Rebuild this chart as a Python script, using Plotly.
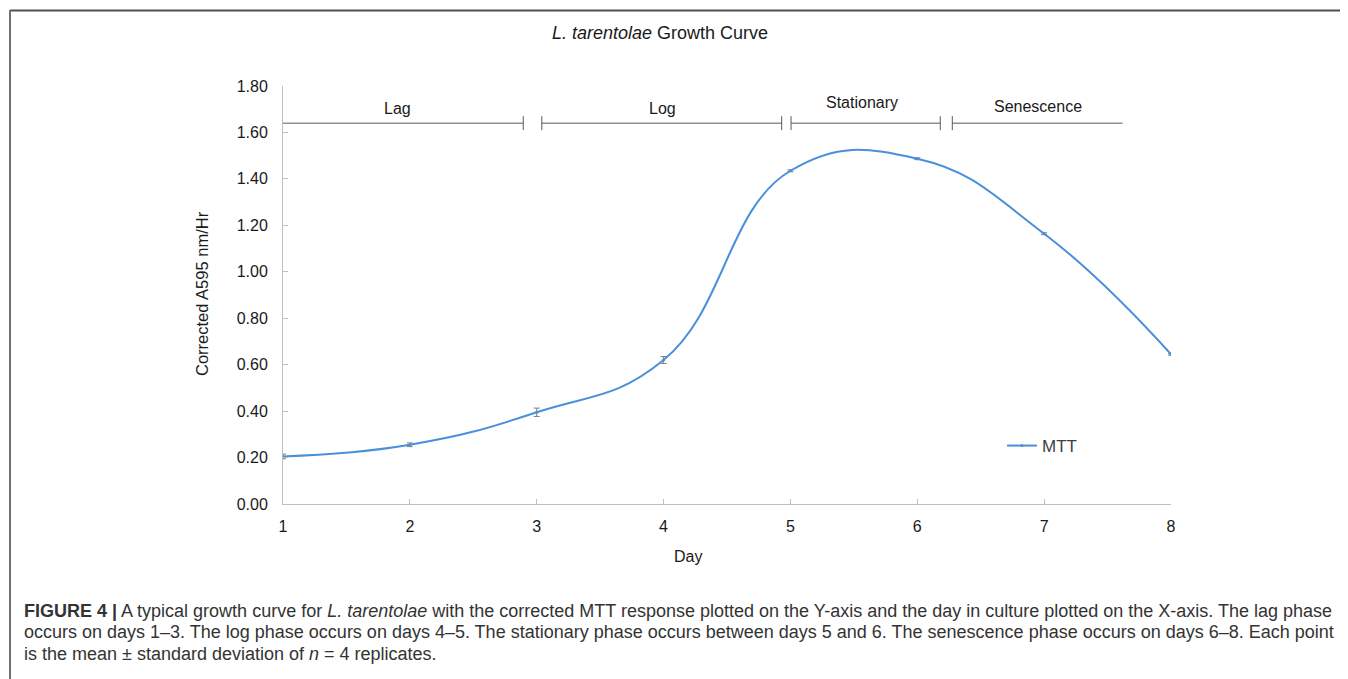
import plotly.graph_objects as go

# ---- data ----
days = [1, 2, 3, 4, 5, 6, 7, 8]
mtt = [0.205, 0.255, 0.395, 0.620, 1.435, 1.487, 1.164, 0.645]
mtt_sd = [0.010, 0.008, 0.018, 0.015, 0.004, 0.004, 0.004, 0.004]

phase_names = ["Lag", "Log", "Stationary", "Senescence"]
phase_start = [1.0, 3.04, 5.005, 6.276]
phase_end = [2.894, 4.931, 6.181, 7.619]
phase_start_tick = [False, True, True, True]
phase_end_tick = [True, True, True, False]
phase_label_x = [1.906, 3.995, 5.564, 6.95]
phase_label_y = [1.705, 1.705, 1.727, 1.71]
phase_line_y = 1.64

y_ticks = [0.0, 0.2, 0.4, 0.6, 0.8, 1.0, 1.2, 1.4, 1.6, 1.8]

caption_lines = [
    "<b>FIGURE 4 |</b> A typical growth curve for <i>L. tarentolae</i> with the corrected MTT "
    "response plotted on the Y-axis and the day in culture plotted on the X-axis. The lag phase",
    "occurs on days 1–3. The log phase occurs on days 4–5. The stationary phase occurs between "
    "days 5 and 6. The senescence phase occurs on days 6–8. Each point",
    "is the mean ± standard deviation of <i>n</i> = 4 replicates.",
]

# ---- layout geometry (screen px; page body has an 8px margin) ----
OFF = 8
WS, HS = 1348, 679          # screen size
W, H = WS - OFF, HS - OFF   # figure size
L, R, T, B = 283, 1171, 86, 504  # plot area on screen


def px_x(px):
    return (px - L) / (R - L)


def px_y(py):
    return (B - py) / (B - T)


FONT = "Liberation Sans, Arial, sans-serif"
AX = "#bfbfbf"
BLUE = "#4a8fda"
TXT = "#1a1a1a"

fig = go.Figure()
fig.add_trace(go.Scatter(
    x=days, y=mtt, name="MTT", mode="lines+markers",
    line=dict(color=BLUE, width=2, shape="spline", smoothing=1.25),
    marker=dict(size=3, color=BLUE),
    error_y=dict(type="data", array=mtt_sd, visible=True,
                 color="#7f7f7f", thickness=1, width=3),
))

shapes = []
tick_h = 0.03
for s, e, st, et in zip(phase_start, phase_end, phase_start_tick, phase_end_tick):
    shapes.append(dict(type="line", xref="x", yref="y", x0=s, x1=e,
                       y0=phase_line_y, y1=phase_line_y,
                       line=dict(color="#595959", width=1)))
    if st:
        shapes.append(dict(type="line", xref="x", yref="y", x0=s, x1=s,
                           y0=phase_line_y - tick_h, y1=phase_line_y + tick_h,
                           line=dict(color="#595959", width=1)))
    if et:
        shapes.append(dict(type="line", xref="x", yref="y", x0=e, x1=e,
                           y0=phase_line_y - tick_h, y1=phase_line_y + tick_h,
                           line=dict(color="#595959", width=1)))

# frame of the figure panel
shapes.append(dict(type="line", xref="paper", yref="paper",
                   x0=px_x(10), x1=px_x(WS + 20), y0=px_y(10.5), y1=px_y(10.5),
                   line=dict(color="#505050", width=2)))
shapes.append(dict(type="line", xref="paper", yref="paper",
                   x0=px_x(10), x1=px_x(10), y0=px_y(10), y1=px_y(HS + 20),
                   line=dict(color="#707070", width=2)))

annotations = []
for name, lx, ly in zip(phase_names, phase_label_x, phase_label_y):
    annotations.append(dict(x=lx, y=ly, xref="x", yref="y", text=name,
                            xanchor="center", yanchor="middle",
                            showarrow=False, font=dict(size=16, color=TXT, family=FONT)))

annotations.append(dict(x=px_x(660), y=px_y(33), xref="paper", yref="paper",
                        xanchor="center", yanchor="middle",
                        text="<i>L. tarentolae</i> Growth Curve", showarrow=False,
                        font=dict(size=18, color=TXT, family=FONT)))
annotations.append(dict(x=px_x(688), y=px_y(556), xref="paper", yref="paper",
                        xanchor="center", yanchor="middle",
                        text="Day", showarrow=False,
                        font=dict(size=16, color=TXT, family=FONT)))
annotations.append(dict(x=px_x(202), y=px_y(294), xref="paper", yref="paper",
                        xanchor="center", yanchor="middle",
                        text="Corrected A595 nm/Hr", showarrow=False, textangle=-90,
                        font=dict(size=16.5, color=TXT, family=FONT)))

cap_y = [610.7, 632.2, 653.5]
for line, cy in zip(caption_lines, cap_y):
    annotations.append(dict(x=px_x(22), y=px_y(cy), xref="paper", yref="paper",
                            xanchor="left", yanchor="middle", align="left",
                            text=line, showarrow=False,
                            font=dict(size=18, color="#333333",
                                      family="Liberation Sans Narrow, Arial Narrow, Liberation Sans, Arial, sans-serif")))

fig.update_layout(
    width=W, height=H,
    margin=dict(l=L - OFF, r=W - (R - OFF), t=T - OFF, b=H - (B - OFF), pad=0),
    paper_bgcolor="white", plot_bgcolor="white",
    font=dict(family=FONT, size=16, color=TXT),
    showlegend=True,
    legend=dict(x=px_x(1002), y=px_y(446), xanchor="left", yanchor="middle",
                bgcolor="rgba(0,0,0,0)", itemwidth=30,
                font=dict(size=17, color="#404040", family=FONT)),
    shapes=shapes, annotations=annotations,
    xaxis=dict(range=[1, 8], tickmode="array", tickvals=days,
               ticktext=[str(d) for d in days],
               showline=True, linecolor=AX, linewidth=1,
               ticks="inside", ticklen=5, tickcolor=AX,
               ticklabelstandoff=8,
               showgrid=False, zeroline=False,
               tickfont=dict(size=16, color=TXT)),
    yaxis=dict(range=[0, 1.8], tickmode="array", tickvals=y_ticks,
               ticktext=[f"{v:.2f}" for v in y_ticks],
               showline=True, linecolor=AX, linewidth=1,
               ticks="inside", ticklen=5, tickcolor=AX,
               ticklabelstandoff=11,
               showgrid=False, zeroline=False,
               tickfont=dict(size=16, color=TXT)),
)

fig.write_html("out.html")
